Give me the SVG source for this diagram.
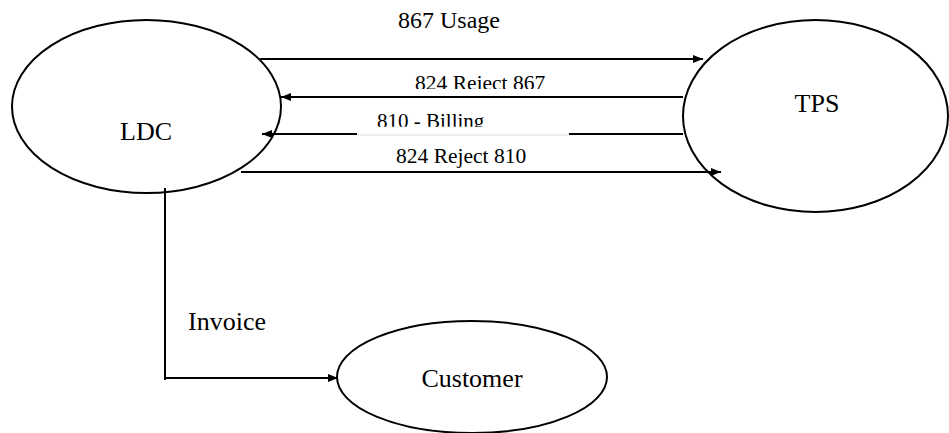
<svg xmlns="http://www.w3.org/2000/svg" width="949" height="433" viewBox="0 0 949 433">
<style>
.node{fill:#fff;stroke:#000;stroke-width:2}
.edge{stroke:#000;stroke-width:2;fill:none}
text{font-family:"Liberation Serif","Times New Roman",serif;fill:#000}
.nl{font-size:26px;text-anchor:middle}
</style>
<defs>
<marker id="ah" viewBox="0 0 10 8" refX="10" refY="4" markerWidth="10" markerHeight="8" markerUnits="userSpaceOnUse" orient="auto">
<path d="M0,0 L10,4 L0,8 Z" fill="#000"/>
</marker>
<clipPath id="c1"><rect x="380" y="60" width="200" height="29"/></clipPath>
<clipPath id="c2"><rect x="350" y="100" width="230" height="26.7"/></clipPath>
</defs>
<rect width="949" height="433" fill="#fff"/>
<g id="LDC">
<ellipse class="node" cx="146.5" cy="106.5" rx="134.5" ry="86.5"/>
<text class="nl" x="146" y="140">LDC</text>
</g>
<g id="TPS">
<ellipse class="node" cx="815.5" cy="116" rx="132.5" ry="96"/>
<text class="nl" x="817" y="112">TPS</text>
</g>
<g id="Customer">
<ellipse class="node" cx="472" cy="377" rx="135" ry="56"/>
<text class="nl" x="472" y="387">Customer</text>
</g>
<g id="connectors">
<line class="edge" x1="260" y1="59" x2="703" y2="59" marker-end="url(#ah)"/>
<line class="edge" x1="683" y1="97" x2="281" y2="97" marker-end="url(#ah)"/>
<line class="edge" x1="683" y1="134" x2="569" y2="134"/>
<line class="edge" x1="357" y1="134" x2="262" y2="134" marker-end="url(#ah)"/>
<line x1="357" y1="135" x2="569" y2="135" stroke="#ddd" stroke-width="1"/>
<line class="edge" x1="241" y1="172" x2="721" y2="172" marker-end="url(#ah)"/>
<polyline class="edge" points="165,188 165,380"/>
<line class="edge" x1="164" y1="378" x2="338" y2="378" marker-end="url(#ah)"/>
</g>
<g id="labels">
<text x="398" y="28" font-size="24">867 Usage</text>
<text x="415" y="89.5" font-size="21.5" clip-path="url(#c1)">824 Reject 867</text>
<text x="377" y="127.5" font-size="21" clip-path="url(#c2)">810 - Billing</text>
<text x="396" y="163" font-size="21.5">824 Reject 810</text>
<text x="188" y="330" font-size="26">Invoice</text>
</g>
</svg>
